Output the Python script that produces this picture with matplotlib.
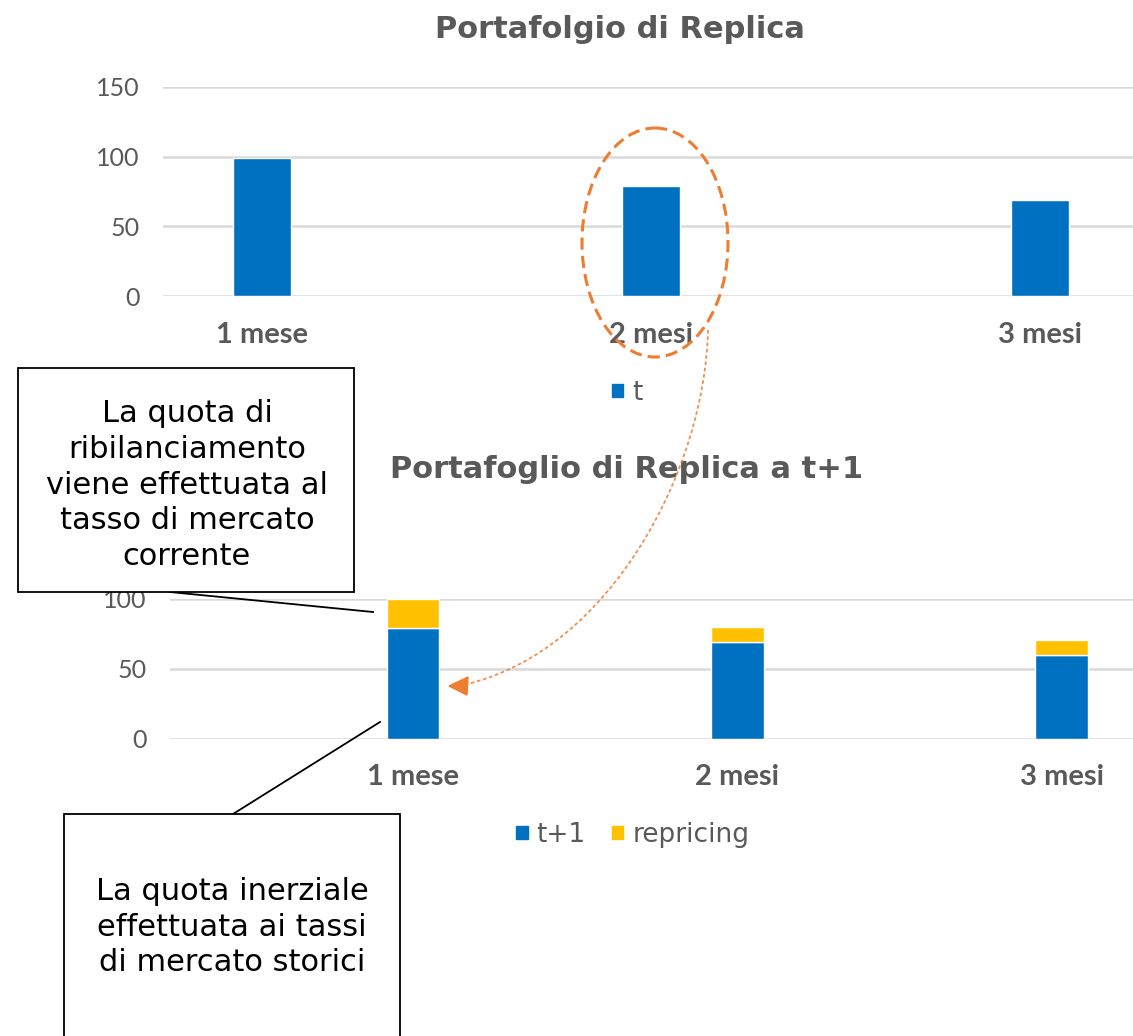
import numpy as np
import matplotlib.pyplot as plt
import matplotlib.transforms as mtransforms
from matplotlib.patches import Ellipse, Rectangle, Polygon, PathPatch, Patch
from matplotlib.path import Path
from matplotlib.lines import Line2D

# data
categories = ['1 mese', '2 mesi', '3 mesi']
t_vals = [99, 79, 69]
t1_vals = [79, 69, 60]
repricing = [21, 11, 11]

BLUE = '#0070C0'
YELLOW = '#FFC000'
ORANGE = '#ED7D31'
GRAY = '#595959'
GRID = '#D9D9D9'

W, H = 1133, 1036
plt.rcParams['font.family'] = ['Lato', 'DejaVu Sans']

fig = plt.figure(figsize=(W / 100, H / 100), dpi=100)
# pixel coords (y down) -> figure
pix = mtransforms.Affine2D().scale(1 / W, -1 / H).translate(0, 1) + fig.transFigure


def style_axes(ax, yticks, pad_x):
    for s in ax.spines.values():
        s.set_visible(False)
    ax.set_yticks(yticks)
    ax.yaxis.grid(True, color=GRID, linewidth=1.8)
    ax.set_axisbelow(True)
    ax.tick_params(axis='y', length=0, pad=17, labelsize=18, labelcolor=GRAY)
    ax.tick_params(axis='x', length=0, pad=pad_x, labelsize=21, labelcolor=GRAY)
    for lab in ax.get_xticklabels():
        lab.set_fontweight('bold')


leg_kw = dict(loc='center', frameon=False, handlelength=0.42, handleheight=0.42,
              handletextpad=0.35, columnspacing=1.0, labelcolor=GRAY,
              prop={'family': 'DejaVu Sans', 'size': 19})

# top chart
ax1 = fig.add_axes([163 / W, 1 - 296 / H, (W - 163) / W, 209 / H])
x = np.arange(len(categories))
ax1.bar(x, t_vals, width=0.15, color=BLUE, edgecolor='white', linewidth=1, label='t')
ax1.set_xlim(-0.2545, 2.239)
ax1.set_ylim(0, 150)
ax1.set_xticks(x, categories)
style_axes(ax1, [0, 50, 100, 150], 19)
fig.text(620 / W, 1 - 29 / H, 'Portafolgio di Replica', ha='center', va='center',
         fontsize=22, fontweight='bold', color=GRAY, family='DejaVu Sans')
fig.legend(handles=[Patch(color=BLUE, label='t')],
           bbox_to_anchor=(627 / W, 1 - 393 / H), **leg_kw)

# bottom chart
ax2 = fig.add_axes([170 / W, 1 - 739 / H, (W - 170) / W, 140 / H])
ax2.bar(x, t1_vals, width=0.163, color=BLUE, edgecolor='white', linewidth=1, label='t+1')
ax2.bar(x, repricing, bottom=t1_vals, width=0.163, color=YELLOW, edgecolor='white',
        linewidth=1, label='repricing', clip_on=False)
ax2.set_xlim(-0.749, 2.219)
ax2.set_ylim(0, 100)
ax2.set_xticks(x, categories)
style_axes(ax2, [0, 50, 100], 18)
fig.text(627 / W, 1 - 470 / H, 'Portafoglio di Replica a t+1', ha='center', va='center',
         fontsize=22, fontweight='bold', color=GRAY, family='DejaVu Sans')
fig.legend(handles=[Patch(color=BLUE, label='t+1'), Patch(color=YELLOW, label='repricing')],
           ncol=2, bbox_to_anchor=(633 / W, 1 - 835 / H), **leg_kw)

# dashed ellipse around 2 mesi
fig.add_artist(Ellipse((655, 242.5), 146, 229, transform=pix, fill=False,
                       edgecolor=ORANGE, linewidth=2.2, linestyle=(0, (4, 2)), zorder=4))

# dotted curved arrow
verts = [(708, 330), (705, 470), (610, 650), (467, 684)]
curve = Path(verts, [Path.MOVETO, Path.CURVE4, Path.CURVE4, Path.CURVE4])
fig.add_artist(PathPatch(curve, transform=pix, fill=False, edgecolor=ORANGE,
                         linewidth=1.3, linestyle=(0, (2, 1.5)), alpha=0.85, zorder=4))
fig.add_artist(Polygon([(449, 686), (468, 677), (467, 695)], closed=True, transform=pix,
                       facecolor=ORANGE, edgecolor=ORANGE, zorder=4))

# callouts
fig.add_artist(Line2D([170, 373], [592, 612], transform=pix, color='black', linewidth=1.3, zorder=5))
fig.add_artist(Line2D([380, 233], [722, 814], transform=pix, color='black', linewidth=1.3, zorder=5))
fig.add_artist(Rectangle((18, 368), 336, 224, transform=pix, facecolor='white',
                         edgecolor='black', linewidth=1.3, zorder=6))
fig.add_artist(Rectangle((64, 814), 336, 240, transform=pix, facecolor='white',
                         edgecolor='black', linewidth=1.3, zorder=6, clip_on=False))
fig.text(187 / W, 1 - 485 / H,
         'La quota di\nribilanciamento\nviene effettuata al\ntasso di mercato\ncorrente',
         ha='center', va='center', fontsize=22, color='black', linespacing=1.29,
         family='DejaVu Sans', zorder=7)
fig.text(232 / W, 1 - 927 / H,
         'La quota inerziale\neffettuata ai tassi\ndi mercato storici',
         ha='center', va='center', fontsize=22, color='black', linespacing=1.3,
         family='DejaVu Sans', zorder=7)

fig.savefig('out.png', dpi=100, facecolor='white')
